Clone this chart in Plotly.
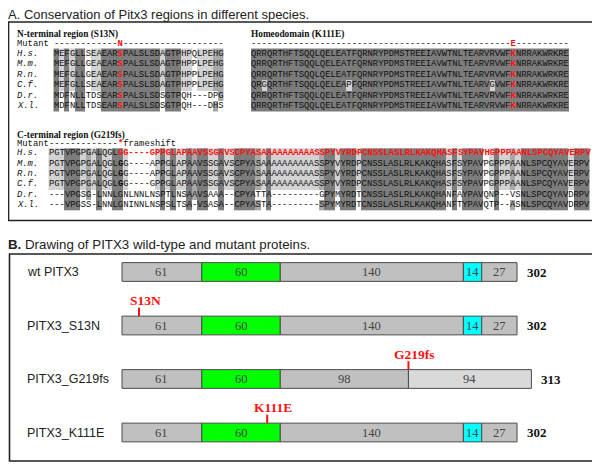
import plotly.graph_objects as go
from collections import Counter

W, H = 600, 469
# the page body adds an 8px margin; positions below are in window pixels
OX, OY = 8, 8

# ---------------- Panel A data ----------------
species = ["H.s.", "M.m.", "R.n.", "C.f.", "D.r.", "X.l."]

nterm_seqs = [
    "MEFGLLSEAEARSPALSLSDAGTPHPQLPEHG",
    "MEFGLLGEAEARSPALSLSDAGTPHPPLPEHG",
    "MEFGLLGEAEARSPALSLSDAGTPHPPLPEHG",
    "MEFGLLSEAEARSPALSLSDAGTPHPPLPEHG",
    "MDFNLLTDSEARSPALSLSDSGTPQH---DPG",
    "MDFNLLTDSEARSPALSLSDSGTPQH---DHS",
]
nterm_mutant = "------------N-------------------"

homeo_seqs = [
    "QRRQRTHFTSQQLQELEATFQRNRYPDMSTREEIAVWTNLTEARVRVWFKNRRAKWRKRE",
    "QRRQRTHFTSQQLQELEATFQRNRYPDMSTREEIAVWTNLTEARVRVWFKNRRAKWRKRE",
    "QRRQRTHFTSQQLQELEATFQRNRYPDMSTREEIAVWTNLTEARVRVWFKNRRAKWRKRE",
    "QRGQRTHFTSQQLQELEAPFQRNRYPDMSTREEIAVWTNLTEARVGVWFKNRRAKWRKRE",
    "QRRQRTHFTSQQLQELEATFQRNRYPDMSTREEIAVWTNLTEARVRVWFKNRRAKWRKRE",
    "QRRQRTHFTSQQLQELEATFQRNRYPDMSTREEIAVWTNLTEARVRVWFKNRRAKWRKRE",
]
homeo_mutant = "-------------------------------------------------E----------"

cterm_seqs = [
    "PGTVPGPGALQGLGG----GPPGLAPAAVSSGAVSCPYASAAAAAAAAAASSPYVYRDPCNSSLASLRLKAKQHASFSYPAVHGPPPAANLSPCQYAVERPV",
    "PGTVPGPGALQGLGG----APPGLAPAAVSSGAVSCPYASAAAAAAAAAASSPYVYRDPCNSSLASLRLKAKQHASFSYPAVPGPPPAANLSPCQYAVERPV",
    "PGTVPGPGALQGLGG----APPGLAPAAVSSGAVSCPYASAAAAAAAAAASSPYVYRDPCNSSLASLRLKAKQHASFSYPAVPGPPPAANLSPCQYAVERPV",
    "PGTVPGPGALQGLGG----GPPGLAPAAVSSGAVSCPYASAAAAAAAAAASSPYVYRDPCNSSLASLRLKAKQHASFSYPAVPGPPPAANLSPCQYAVERPV",
    "---VPGSG-LNNLGNLNNLNSPTLNSAAVSAAA--CPYATTA---------GPYMYRDTCNSSLASLRLKAKQHANFAYPAVQNP--VSNLSPCQYAVDRPV",
    "---VPGSS-LNNLGNINNLNSPSLTSA-VSASA--CPYASTA---------SPYMYRDTCNSSLASLRLKAKQHANFTYPAVQTP--ASNLSPCQYAVDRPV",
]
cterm_mutant = "-------------*frameshift"

# ---------------- Panel B data ----------------
proteins = ["wt PITX3", "PITX3_S13N", "PITX3_G219fs", "PITX3_K111E"]
segments = [
    [61, 60, 140, 14, 27],
    [61, 60, 140, 14, 27],
    [61, 60, 98, 94],
    [61, 60, 140, 14, 27],
]
segment_kinds = [
    ["n", "hd", "mid", "oar", "c"],
    ["n", "hd", "mid", "oar", "c"],
    ["n", "hd", "mid", "fs"],
    ["n", "hd", "mid", "oar", "c"],
]
totals = [302, 302, 313, 302]
mutation_names = [None, "S13N", "G219fs", "K111E"]
mutation_pos = [None, 13, 219, 111]

kind_color = {"n": "#c0c0c0", "hd": "#00ff00", "mid": "#c0c0c0",
              "oar": "#00ffff", "c": "#c0c0c0", "fs": "#d9d9d9"}

# ---------------- helpers ----------------
def px_x(p):
    return (p - OX) / W

def px_y(p):
    return 1 - (p - OY) / H

RED = "#ff1010"
MONO = "Liberation Mono"
SERIF = "Liberation Serif"
SANS = "Liberation Sans"

fig = go.Figure()
annotations = []
shapes = []

def shade_levels(seqs, dark_min):
    ncol = len(seqs[0])
    z = [[0] * ncol for _ in seqs]
    for c in range(ncol):
        col = [s[c] for s in seqs]
        cnt = Counter(ch for ch in col if ch != "-")
        if not cnt:
            continue
        top, n = cnt.most_common(1)[0]
        for r, ch in enumerate(col):
            if ch == "-":
                continue
            if n >= dark_min:
                z[r][c] = 3 if ch == top else 1
            elif n == 5 and ch == top:
                z[r][c] = 2
            elif n == 4 and ch == top:
                z[r][c] = 1
    return z

def markup(seq, red_cols=(), bold_cols=()):
    out = []
    for i, ch in enumerate(seq):
        t = ch
        if i in bold_cols:
            t = "<b>" + t + "</b>"
        if i in red_cols:
            t = "<span style='color:%s'><b>%s</b></span>" % (RED, ch)
        out.append(t)
    return "".join(out)

CW = 5.3
blocks = [
    dict(seqs=nterm_seqs, X0=53.5, Y0=48.5, rh=10.45, dark_min=6, ax=2,
         mutant=nterm_mutant, mut_red=[12], names=True),
    dict(seqs=homeo_seqs, X0=251.0, Y0=48.5, rh=10.45, dark_min=5, ax=3,
         mutant=homeo_mutant, mut_red=[49], names=False),
    dict(seqs=cterm_seqs, X0=48.5, Y0=148.3, rh=10.34, dark_min=6, ax=4,
         mutant=cterm_mutant, mut_red=[13], names=True),
]

layout_axes = {}
cs = [[0, "rgba(255,255,255,0)"], [1 / 3, "#d2d2d2"], [2 / 3, "#a8a8a8"], [1, "#7c7c7c"]]
for b in blocks:
    seqs = b["seqs"]
    ncol = len(seqs[0])
    nrow = len(seqs)
    k = b["ax"]
    xa, ya = "x%d" % k, "y%d" % k
    z = shade_levels(seqs, b["dark_min"])
    fig.add_trace(go.Heatmap(
        z=z, x=list(range(ncol)), y=list(range(nrow)),
        colorscale=cs, zmin=0, zmax=3, showscale=False,
        hoverinfo="skip", xaxis=xa, yaxis=ya, zsmooth=False))
    X0, Y0, rh = b["X0"] - OX, b["Y0"] - OY, b["rh"]
    layout_axes["xaxis%d" % k] = dict(
        domain=[0, 1], range=[(0 - X0) / CW - 0.5, (W - X0) / CW - 0.5],
        visible=False, anchor=ya, fixedrange=True)
    layout_axes["yaxis%d" % k] = dict(
        domain=[0, 1], range=[(H - Y0) / rh - 0.5, (0 - Y0) / rh - 0.5],
        visible=False, anchor=xa, fixedrange=True)
    mono = dict(family=MONO, size=8.83, color="#111")
    for r, s in enumerate(seqs):
        if k == 2:
            red = [12]; bold = []
        elif k == 3:
            red = [49]; bold = []
        else:
            red = list(range(13, len(s))) if r == 0 else []
            bold = [13] if r in (1, 2, 3) else []
        annotations.append(dict(
            x=-0.5, y=r, xref=xa, yref=ya, text=markup(s, red, bold),
            xanchor="left", yanchor="middle", showarrow=False,
            borderpad=0, borderwidth=0, font=mono))
        if b["names"]:
            annotations.append(dict(
                x=px_x(17), y=r, xref="paper", yref=ya,
                text="<i>%s</i>" % species[r], xanchor="left", yanchor="middle",
                showarrow=False, borderpad=0, borderwidth=0,
                font=dict(family=MONO, size=8.83, color="#111")))
    annotations.append(dict(
        x=-0.5, y=-0.9, xref=xa, yref=ya,
        text=markup(b["mutant"], b["mut_red"]),
        xanchor="left", yanchor="middle", showarrow=False,
        borderpad=0, borderwidth=0, font=mono))
    if b["names"]:
        annotations.append(dict(
            x=px_x(17), y=-0.9, xref="paper", yref=ya, text="Mutant",
            xanchor="left", yanchor="middle", showarrow=False,
            borderpad=0, borderwidth=0, font=mono))

# headers panel A
for txt, x, y in [("N-terminal region (S13N)", 17, 34.5),
                  ("Homeodomain (K111E)", 251, 34.5),
                  ("C-terminal region (G219fs)", 17, 135.5)]:
    annotations.append(dict(
        x=px_x(x), y=px_y(y), xref="paper", yref="paper", text="<b>%s</b>" % txt,
        xanchor="left", yanchor="middle", showarrow=False,
        borderpad=0, borderwidth=0,
        font=dict(family=SERIF, size=9.3, color="#111")))

# panel titles
annotations.append(dict(
    x=px_x(8), y=px_y(14.5), xref="paper", yref="paper",
    text="A. Conservation of Pitx3 regions in different species.",
    xanchor="left", yanchor="middle", showarrow=False, borderpad=0, borderwidth=0,
    font=dict(family=SANS, size=13, color="#222")))
annotations.append(dict(
    x=px_x(8), y=px_y(244), xref="paper", yref="paper",
    text="<b>B.</b> Drawing of PITX3 wild-type and mutant proteins.",
    xanchor="left", yanchor="middle", showarrow=False, borderpad=0, borderwidth=0,
    font=dict(family=SANS, size=13.3, color="#222")))

# panel boxes
shapes.append(dict(type="rect", xref="paper", yref="paper",
                   x0=px_x(8.5), x1=px_x(595.5), y0=px_y(22), y1=px_y(220.5),
                   line=dict(color="#222", width=1.6)))
shapes.append(dict(type="rect", xref="paper", yref="paper",
                   x0=px_x(9.5), x1=px_x(595.5), y0=px_y(254), y1=px_y(461),
                   line=dict(color="#222", width=1.6)))

# ---------------- Panel B bars ----------------
PX_PER_AA = 1.308
BAR_X0 = 122 - OX
ROW_Y0 = 272 - OY
ROW_STEP = 53.5
BAR_W = 0.35

for i, (segs, kinds) in enumerate(zip(segments, segment_kinds)):
    starts = []
    acc = 0
    for L in segs:
        starts.append(acc)
        acc += L
    fig.add_trace(go.Bar(
        y=[i] * len(segs), x=segs, base=starts, orientation="h",
        width=BAR_W,
        marker=dict(color=[kind_color[k] for k in kinds],
                    line=dict(color="#4a4a4a", width=1)),
        showlegend=False, hoverinfo="skip", xaxis="x", yaxis="y"))
    for s0, L in zip(starts, segs):
        annotations.append(dict(
            x=s0 + L / 2, y=i, xref="x", yref="y", text=str(L),
            showarrow=False, xanchor="center", yanchor="middle",
            font=dict(family=SERIF, size=12.5, color="#444")))
    annotations.append(dict(
        x=totals[i], y=i, xref="x", yref="y", text="<b>%d</b>" % totals[i],
        showarrow=False, xanchor="left", yanchor="middle", xshift=8,
        font=dict(family=SERIF, size=13, color="#111")))
    annotations.append(dict(
        x=px_x(25), y=i, xref="paper", yref="y", text=proteins[i],
        showarrow=False, xanchor="left", yanchor="middle",
        font=dict(family=SANS, size=12.5, color="#222")))
    if mutation_pos[i] is not None:
        pos = mutation_pos[i]
        shapes.append(dict(type="line", xref="x", yref="y",
                           x0=pos, x1=pos, y0=i - BAR_W / 2,
                           y1=i - BAR_W / 2 - 8.5 / ROW_STEP,
                           line=dict(color=RED, width=2)))
        annotations.append(dict(
            x=pos, y=i - 25 / ROW_STEP, xref="x", yref="y",
            text="<b>%s</b>" % mutation_names[i], showarrow=False,
            xanchor="center", yanchor="middle", xshift=6,
            font=dict(family=SERIF, size=13.5, color=RED)))

fig.update_layout(
    width=W, height=H,
    margin=dict(l=0, r=0, t=0, b=0),
    paper_bgcolor="white", plot_bgcolor="rgba(0,0,0,0)",
    barmode="overlay", showlegend=False,
    xaxis=dict(domain=[0, 1], range=[-BAR_X0 / PX_PER_AA, (W - BAR_X0) / PX_PER_AA],
               visible=False, fixedrange=True),
    yaxis=dict(domain=[0, 1], range=[(H - ROW_Y0) / ROW_STEP, (0 - ROW_Y0) / ROW_STEP],
               visible=False, fixedrange=True),
    annotations=annotations, shapes=shapes,
    font=dict(family=SANS),
    **layout_axes)

fig.write_html("out.html")
